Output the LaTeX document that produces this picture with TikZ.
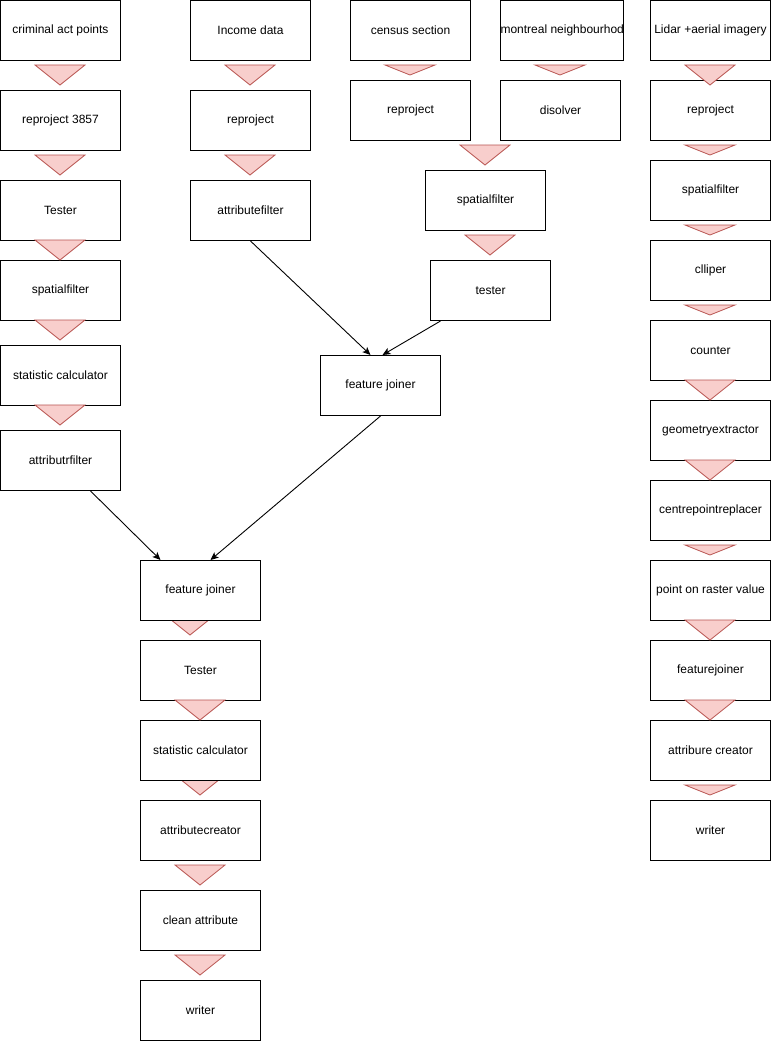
\documentclass[tikz,border=0pt]{standalone}
\usepackage{fontspec}
\setmainfont{Liberation Sans}
\usetikzlibrary{arrows.meta}
\definecolor{tripink}{HTML}{F8CECC}
\definecolor{trired}{HTML}{B85450}
\tikzset{
  stepbox/.style={draw=black, fill=white, line width=1pt, minimum width=120pt, minimum height=60pt,
    inner sep=0pt, anchor=north west, font=\fontsize{12}{14}\selectfont},
  flowtri/.style={fill=tripink, draw=trired, line width=0.8pt, line join=miter},
  link/.style={draw=black, line width=0.9pt, -{Stealth[length=8pt,width=7pt,inset=2pt]}}
}
% down-pointing triangle: centre x, top y, apex y, half width
\newcommand{\downtri}[4]{\path[flowtri] (#1-#4,#2) -- (#1+#4,#2) -- (#1,#3) -- cycle;}
\begin{document}
\begin{tikzpicture}[x=1pt,y=-1pt]
\useasboundingbox (0,0) rectangle (771,1041);
\fill[white] (0,0) rectangle (771,1041);

% triangles partly hidden behind the following boxes
\downtri{190}{615}{635}{25}
\downtri{200}{775}{795}{25}

% criminal act column
\node[stepbox] (c1) at (0,0) {criminal act points};
\node[stepbox] (c2) at (0,90) {reproject 3857};
\node[stepbox] (c3) at (0,180) {Tester};
\node[stepbox] (c4) at (0,260) {spatialfilter};
\node[stepbox] (c5) at (0,345) {statistic calculator};
\node[stepbox] (c6) at (0,430) {attributrfilter};

% income column
\node[stepbox] (i1) at (190,0) {Income data};
\node[stepbox] (i2) at (190,90) {reproject};
\node[stepbox] (i3) at (190,180) {attributefilter};

% census / neighbourhood branch
\node[stepbox] (s1) at (350,0) {census section};
\node[stepbox] (n1) at (500,0) {montreal neighbourhod};
\node[stepbox] (s2) at (350,80) {reproject};
\node[stepbox] (n2) at (500,80) {disolver};
\node[stepbox] (s3) at (425,170) {spatialfilter};
\node[stepbox] (s4) at (430,260) {tester};
\node[stepbox] (fj1) at (320,355) {feature joiner};

% lidar column
\node[stepbox] (l1) at (650,0) {Lidar +aerial imagery};
\node[stepbox] (l2) at (650,80) {reproject};
\node[stepbox] (l3) at (650,160) {spatialfilter};
\node[stepbox] (l4) at (650,240) {clliper};
\node[stepbox] (l5) at (650,320) {counter};
\node[stepbox] (l6) at (650,400) {geometryextractor};
\node[stepbox] (l7) at (650,480) {centrepointreplacer};
\node[stepbox] (l8) at (650,560) {point on raster value};
\node[stepbox] (l9) at (650,640) {featurejoiner};
\node[stepbox] (l10) at (650,720) {attribure creator};
\node[stepbox] (l11) at (650,800) {writer};

% merged column
\node[stepbox] (m1) at (140,560) {feature joiner};
\node[stepbox] (m2) at (140,640) {Tester};
\node[stepbox] (m3) at (140,720) {statistic calculator};
\node[stepbox] (m4) at (140,800) {attributecreator};
\node[stepbox] (m5) at (140,890) {clean attribute};
\node[stepbox] (m6) at (140,980) {writer};

% flow triangles
\downtri{60}{65}{85}{25}
\downtri{60}{155}{175}{25}
\downtri{60}{240}{260}{25}
\downtri{60}{320}{340}{25}
\downtri{60}{405}{425}{25}
\downtri{250}{65}{85}{25}
\downtri{250}{155}{175}{25}
\downtri{410}{65}{75}{25}
\downtri{560}{65}{75}{25}
\downtri{485}{145}{165}{25}
\downtri{490}{235}{255}{25}
\downtri{710}{65}{85}{25}
\downtri{710}{145}{155}{25}
\downtri{710}{225}{235}{25}
\downtri{710}{305}{315}{25}
\downtri{710}{380}{400}{25}
\downtri{710}{460}{480}{25}
\downtri{710}{545}{555}{25}
\downtri{710}{620}{640}{25}
\downtri{710}{700}{720}{25}
\downtri{710}{785}{795}{25}
\downtri{200}{700}{720}{25}
\downtri{200}{865}{885}{25}
\downtri{200}{955}{975}{25}

% connectors into the joiners
\draw[link] ([xshift=30pt]c6.south) -- ([xshift=-40pt]m1.north);
\draw[link] (fj1.south) -- ([xshift=10pt]m1.north);
\draw[link] (i3.south) -- ([xshift=-10pt]fj1.north);
\draw[link] ([xshift=-50pt]s4.south) -- ([xshift=2pt]fj1.north);
\end{tikzpicture}
\end{document}
